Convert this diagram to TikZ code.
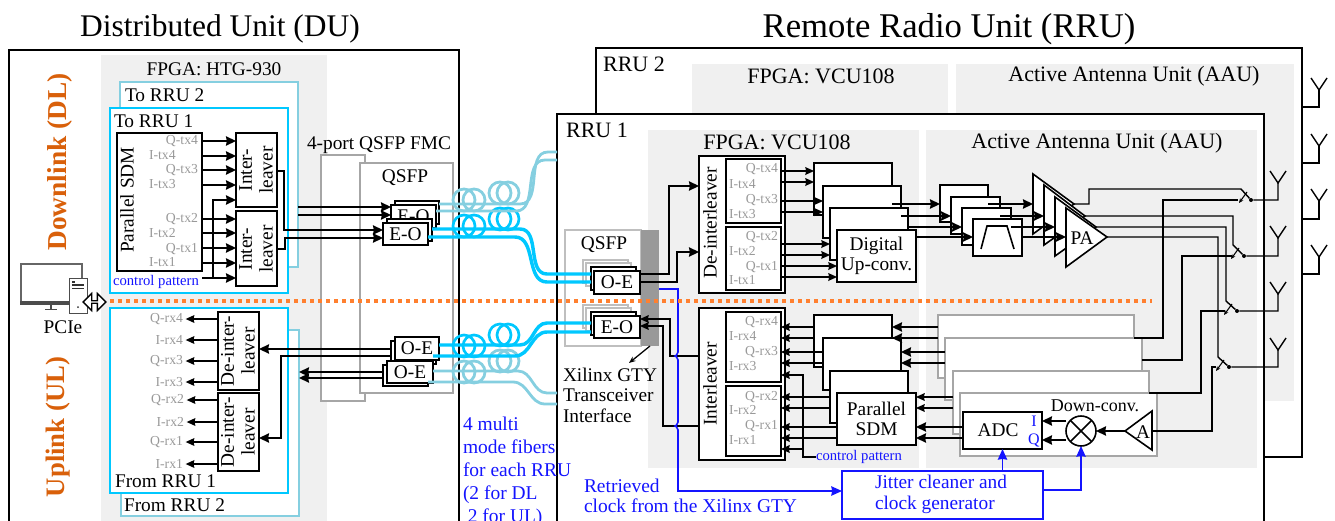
\documentclass[tikz,border=0pt]{standalone}
\usepackage{fontspec}
\setmainfont{Liberation Serif}
\usetikzlibrary{arrows.meta, calc, fit, shapes.arrows}
\definecolor{panelgray}{HTML}{F0F0F0}
\definecolor{edgegray}{HTML}{A6A6A6}
\definecolor{pingray}{HTML}{999999}
\definecolor{fibcyan}{HTML}{00C8FF}
\definecolor{fiblight}{HTML}{85CFE0}
\definecolor{clkblue}{HTML}{1414FF}
\definecolor{dlorange}{HTML}{D9600A}
\definecolor{dotorange}{HTML}{FF8030}

\begin{document}
\begin{tikzpicture}[
      x=0.75pt, y=-0.75pt,
      base/.style={font=\fontsize{14.5}{15.5}\selectfont, inner sep=0pt, outer sep=0pt, align=center},
      panel/.style={base, fill=panelgray},
      box/.style={base, draw=black, line width=1.2pt, fill=white},
      greybox/.style={box, draw=edgegray},
      cyanbox/.style={box, draw=fibcyan},
      lightbox/.style={box, draw=fiblight},
      clkbox/.style={box, draw=clkblue, text=clkblue},
      txt/.style={base},
      bigtxt/.style={base, font=\fontsize{16.5}{17}\selectfont},
      txtl/.style={base, anchor=west, align=left},
      pinq/.style={base, text=pingray, anchor=east, font=\fontsize{10.3}{11}\selectfont},
      pini/.style={base, text=pingray, anchor=west, font=\fontsize{10.3}{11}\selectfont},
      rot/.style={base, rotate=90},
      ctrl/.style={base, anchor=west, text=clkblue, font=\fontsize{11}{12}\selectfont},
      arr/.style={-{Stealth[length=7.5pt, width=7pt, inset=0.6pt]}, line width=1.05pt, black},
      arrs/.style={-{Stealth[length=6.5pt, width=5.8pt, inset=0.6pt]}, line width=0.95pt, black},
      ln/.style={line width=1.05pt, black},
      clk/.style={-{Stealth[length=8pt, width=7pt, inset=0.6pt]}, line width=1.2pt, clkblue},
      fibc/.style={line width=2.6pt, fibcyan},
      fibl/.style={line width=2.1pt, fiblight},
      tick/.style={-{Stealth[length=3.5pt, width=3pt]}, line width=0.8pt, black},
      swdot/.style={circle, fill=black, inner sep=0pt, minimum size=3pt},
      spool/.pic={\draw (-5,0) circle[radius=11]; \draw (5,0) circle[radius=11];},
      spoolb/.pic={\draw (-4,0) circle[radius=11]; \draw (4,0) circle[radius=11];},
      antenna/.pic={\draw[ln] (-8,-12) -- (0,0) -- (8,-12);}
    ]
    \path[use as bounding box, clip] (0,0) rectangle (1335,521);

    % --- Enclosures ---
    \node[box, fit={(9,50)(459,560)}] (du) {};
    \node[panel, fit={(101,55)(327,560)}] (fpgaht) {};
    \node[box, fit={(596,48)(1302,457)}] (rrub) {};
    \node[panel, fit={(692,64)(948,114)}] (fpgabp) {};
    \node[panel, fit={(956,64)(1294,401)}] (aaubp) {};
    \node[box, fit={(557,114)(1264,560)}] (rrua) {};
    \node[panel, fit={(648,130)(919,468)}] (fpgaap) {};
    \node[panel, fit={(926,130)(1257,468)}] (aauap) {};

    % --- Titles ---
    \node[txt, font=\fontsize{23.6}{25}\selectfont] (dutitle) at (220,29) {Distributed Unit (DU)};
    \node[txt, font=\fontsize{26}{27}\selectfont] (rrutitle) at (949,29) {Remote Radio Unit (RRU)};
    \node[txt] (fpgahtl) at (214,69) {FPGA: HTG-930};
    \node[bigtxt] (rrubl) at (634,64) {RRU 2};
    \node[bigtxt] (rrual) at (597,130) {RRU 1};
    \node[bigtxt] (fpgabl) at (821,76) {FPGA: VCU108};
    \node[bigtxt] (aaubl) at (1134,76) {Active Antenna Unit (AAU)};
    \node[bigtxt] (fpgaal) at (777,142) {FPGA: VCU108};
    \node[bigtxt] (aaual) at (1097,143) {Active Antenna Unit (AAU)};
    \node[rot, text=dlorange, font=\fontsize{20.5}{22}\bfseries\selectfont] (dltitle) at (60,162) {Downlink (DL)};
    \node[rot, text=dlorange, font=\fontsize{20}{21}\bfseries\selectfont] (ultitle) at (58,427) {Uplink (UL)};

    % --- DU, downlink ---
    \node[lightbox, fit={(120,82)(298,267)}] (torrub) {};
    \node[txtl] (torrubl) at (125,95) {To RRU 2};
    \node[cyanbox, fit={(110,108)(288,293)}] (torrua) {};
    \node[txtl] (torrual) at (114,121) {To RRU 1};
    \node[box, fit={(117,133)(202,271)}] (sdmtx) {};
    \node[rot] (sdmtxl) at (127,200) {Parallel SDM};
    \node[pinq] (dqtxd) at (198,141) {Q-tx4};
    \node[pini] (ditxd) at (149,155) {I-tx4};
    \node[pinq] (dqtxc) at (198,170) {Q-tx3};
    \node[pini] (ditxc) at (149,184) {I-tx3};
    \node[pinq] (dqtxb) at (198,219) {Q-tx2};
    \node[pini] (ditxb) at (149,233) {I-tx2};
    \node[pinq] (dqtxa) at (198,249) {Q-tx1};
    \node[pini] (ditxa) at (149,262) {I-tx1};
    \node[box, fit={(236,133)(277,207)}] (ilva) {};
    \node[rot] (ilval) at (256,170) {Inter-\\leaver};
    \node[box, fit={(236,211)(277,286)}] (ilvb) {};
    \node[rot] (ilvbl) at (256,249) {Inter-\\leaver};
    \node[ctrl] (ctrld) at (113,282) {control pattern};
    \draw[arr] (sdmtx.east |- 0,141) -- (ilva.west |- 0,141);
    \draw[arr] (sdmtx.east |- 0,156) -- (ilva.west |- 0,156);
    \draw[arr] (sdmtx.east |- 0,170) -- (ilva.west |- 0,170);
    \draw[arr] (sdmtx.east |- 0,185) -- (ilva.west |- 0,185);
    \draw[arr] (sdmtx.east |- 0,219) -- (ilvb.west |- 0,219);
    \draw[arr] (sdmtx.east |- 0,233) -- (ilvb.west |- 0,233);
    \draw[arr] (sdmtx.east |- 0,248) -- (ilvb.west |- 0,248);
    \draw[arr] (sdmtx.east |- 0,263) -- (ilvb.west |- 0,263);
    \draw[arr] (sdmtx.east |- 0,278) -- (ilvb.west |- 0,278);
    \draw[arr] (213,278) -- (213,200) -- (ilva.west |- 0,200);

    % --- DU, uplink ---
    \node[lightbox, fit={(121,330)(299,516)}] (frrub) {};
    \node[txtl] (frrubl) at (124,505) {From RRU 2};
    \node[cyanbox, fit={(110,308)(288,493)}] (frrua) {};
    \node[txtl] (frrual) at (115,481) {From RRU 1};
    \node[box, fit={(218,312)(259,390)}] (dila) {};
    \node[rot] (dilal) at (238,351) {De-inter-\\leaver};
    \node[box, fit={(218,393)(259,471)}] (dilb) {};
    \node[rot] (dilbl) at (238,432) {De-inter-\\leaver};
    \node[pinq] (dqrxd) at (183,319) {Q-rx4};
    \node[pinq] (dirxd) at (183,340) {I-rx4};
    \node[pinq] (dqrxc) at (183,361) {Q-rx3};
    \node[pinq] (dirxc) at (183,382) {I-rx3};
    \node[pinq] (dqrxb) at (184,400) {Q-rx2};
    \node[pinq] (dirxb) at (184,422) {I-rx2};
    \node[pinq] (dqrxa) at (183,442) {Q-rx1};
    \node[pinq] (dirxa) at (183,464) {I-rx1};
    \draw[arrs] (dila.west |- dqrxd) -- ([xshift=2pt]dqrxd.east);
    \draw[arrs] (dila.west |- dirxd) -- ([xshift=2pt]dirxd.east);
    \draw[arrs] (dila.west |- dqrxc) -- ([xshift=2pt]dqrxc.east);
    \draw[arrs] (dila.west |- dirxc) -- ([xshift=2pt]dirxc.east);
    \draw[arrs] (dilb.west |- dqrxb) -- ([xshift=2pt]dqrxb.east);
    \draw[arrs] (dilb.west |- dirxb) -- ([xshift=2pt]dirxb.east);
    \draw[arrs] (dilb.west |- dqrxa) -- ([xshift=2pt]dqrxa.east);
    \draw[arrs] (dilb.west |- dirxa) -- ([xshift=2pt]dirxa.east);

    % --- FMC and QSFP on the DU ---
    \node[greybox, fit={(321,155)(365,401)}] (fmc) {};
    \node[greybox, fit={(360,163)(453,393)}] (qsfpdu) {};
    \node[txt] (fmcl) at (379,145) {4-port QSFP FMC};
    \node[txt] (qsfpdul) at (405,178) {QSFP};
    \node[box, fit={(395,201)(439,224)}] (eoda) {};
    \node[box, fit={(391,205)(436,228)}] (eodb) {};
    \node[txt] (eodbl) at (eodb) {E-O};
    \node[box, fit={(387,219)(432,241)}] (eodc) {};
    \node[box, fit={(383,223)(428,245)}] (eodd) {};
    \node[txt] (eoddl) at (eodd) {E-O};
    \node[box, fit={(391,341)(436,364)}] (oedb) {};
    \node[box, fit={(395,337)(439,360)}] (oeda) {};
    \node[txt] (oedal) at (oeda) {O-E};
    \node[box, fit={(383,365)(428,386)}] (oedd) {};
    \node[box, fit={(387,361)(433,383)}] (oedc) {};
    \node[txt] (oedcl) at (oedc) {O-E};
    \draw[arr] (torrub.east |- 0,207) -- (eodb.west |- 0,207);
    \draw[arr] (torrub.east |- 0,215) -- (eodb.west |- 0,215);
    \draw[arr] (ilva.east |- 0,171) -| (284,230) -- (eodd.west |- 0,230);
    \draw[arr] (ilvb.east |- 0,249) -| (285,238) -- (eodd.west |- 0,238);
    \draw[arr] (oedb.west |- 0,349) -- (dila.east |- 0,349);
    \draw[arr] (oedb.west |- 0,356) -| (281,438) -- (dilb.east |- 0,438);
    \draw[arr] (oedd.west |- 0,372) -- (frrub.east |- 0,372);
    \draw[arr] (oedd.west |- 0,378) -- (frrub.east |- 0,378);

    % --- QSFP on the RRU ---
    \node[greybox, draw=black!25, fit={(565,230)(641,346)}] (qsfprru) {};
    \node[panel, fill=black!40, fit={(641,230)(659,346)}] (gty) {};
    \node[txt] (qsfprrul) at (604,245) {QSFP};
    \node[greybox, draw=black!25, fit={(583,260)(628,283)}] (oesa) {};
    \node[greybox, draw=black!25, fit={(586,263)(631,286)}] (oesb) {};
    \node[box, fit={(591,267)(636,290)}] (oerb) {};
    \node[box, fit={(594,271)(640,294)}] (oera) {};
    \node[txt] (oeral) at (oera) {O-E};
    \node[greybox, draw=black!25, fit={(583,305)(628,328)}] (eosa) {};
    \node[greybox, draw=black!25, fit={(586,308)(631,331)}] (eosb) {};
    \node[box, fit={(591,312)(636,335)}] (eorb) {};
    \node[box, fit={(594,316)(640,338)}] (eora) {};
    \node[txt] (eoral) at (eora) {E-O};
    \node[txtl, anchor=north west, font=\fontsize{14.5}{15.4}\selectfont] (gtyl) at (563,368) {Xilinx GTY\\Transceiver\\Interface};
    \draw[arrs, -{Stealth[length=5pt, width=4pt]}] (gty.south) -- (629,363);

    % --- Fibers ---
    \path[fibl] pic at (469,200) {spool} pic at (504,193) {spoolb};
    \path[fibc] pic[line width=2pt] at (469,226) {spool} pic[line width=2pt] at (504,219) {spoolb};
    \path[fibc] pic[line width=2pt] at (469,346) {spool} pic[line width=2pt] at (504,335) {spoolb};
    \path[fibl] pic at (469,372) {spool} pic at (504,361) {spoolb};
    \coordinate (fua) at (520,204);
    \coordinate (fub) at (516,211);
    \coordinate (fca) at (520,229);
    \coordinate (fcb) at (515,237);
    \coordinate (fda) at (520,345);
    \coordinate (fdb) at (515,356);
    \coordinate (fla) at (518,371);
    \coordinate (flb) at (513,382);
    \draw[fibl] (eoda.east |- fua) -- (fua) to[out=0, in=180] (548,152) -- (rrua.west |- 0,152);
    \draw[fibl] (eodb.east |- fub) -- (fub) to[out=0, in=180] (545,160) -- (rrua.west |- 0,160);
    \draw[fibc] (eodc.east |- fca) -- (fca) to[out=0, in=180] (547,274) -- (oerb.west |- 0,274);
    \draw[fibc] (eodd.east |- fcb) -- (fcb) to[out=0, in=180] (547,282) -- (oerb.west |- 0,282);
    \draw[fibc] (oeda.east |- fda) -- (fda) to[out=0, in=180] (547,323) -- (eorb.west |- 0,323);
    \draw[fibc] (oedc.east |- fdb) -- (fdb) to[out=0, in=180] (547,332) -- (eorb.west |- 0,332);
    \draw[fibl] (oedc.east |- fla) -- (fla) to[out=0, in=180] (547,393) -- (rrua.west |- 0,393);
    \draw[fibl] (oedd.east |- flb) -- (flb) to[out=0, in=180] (545,404) -- (rrua.west |- 0,404);

    % --- RRU, downlink digital ---
    \node[box, fit={(699,156)(785,293)}] (dilrru) {};
    \node[rot] (dilrrul) at (710,223) {De-interleaver};
    \node[box, line width=0.9pt, fit={(726,159)(781,223)}] (txsa) {};
    \node[box, line width=0.9pt, fit={(726,227)(781,290)}] (txsb) {};
    \node[pinq] (qtxd) at (778,169) {Q-tx4};
    \node[pini] (itxd) at (729,184) {I-tx4};
    \node[pinq] (qtxc) at (778,200) {Q-tx3};
    \node[pini] (itxc) at (729,214) {I-tx3};
    \node[pinq] (qtxb) at (778,237) {Q-tx2};
    \node[pini] (itxb) at (729,251) {I-tx2};
    \node[pinq] (qtxa) at (778,267) {Q-tx1};
    \node[pini] (itxa) at (729,280) {I-tx1};
    \node[box, fit={(814,163)(892,215)}] (duca) {};
    \node[box, fit={(823,186)(901,238)}] (ducb) {};
    \node[box, fit={(830,208)(908,260)}] (ducc) {};
    \node[box, fit={(837,230)(916,282)}] (ducd) {};
    \node[txt] (ducdl) at (ducd) {Digital\\Up-conv.};
    \draw[arrs] (txsa.east |- 0,171) -- (duca.west |- 0,171);
    \draw[arrs] (txsa.east |- 0,182) -- (duca.west |- 0,182);
    \draw[arrs] (txsa.east |- 0,201) -- (ducb.west |- 0,201);
    \draw[arrs] (txsa.east |- 0,212) -- (ducb.west |- 0,212);
    \draw[arrs] (txsb.east |- 0,244) -- (ducc.west |- 0,244);
    \draw[arrs] (txsb.east |- 0,255) -- (ducc.west |- 0,255);
    \draw[arrs] (txsb.east |- 0,266) -- (ducd.west |- 0,266);
    \draw[arrs] (txsb.east |- 0,277) -- (ducd.west |- 0,277);
    \draw[arr] (oera.east |- 0,274) -| (669,186) -- (dilrru.west |- 0,186);
    \draw[arr] (oera.east |- 0,282) -| (677,252) -- (dilrru.west |- 0,252);

    % --- Filters and PA ---
    \node[box, fit={(940,185)(988,222)}] (bpfa) {};
    \node[box, fit={(951,197)(1000,234)}] (bpfb) {};
    \node[box, fit={(962,208)(1011,245)}] (bpfc) {};
    \node[box, fit={(973,219)(1022,256)}] (bpfd) {};
    \draw[line width=1.2pt] (981,249) -- (987,226) -- (1007,226) -- (1014,249);
    \draw[arr] (duca.east |- 0,204) -- (bpfa.west |- 0,204);
    \draw[arr] (ducb.east |- 0,216) -- (bpfb.west |- 0,216);
    \draw[arr] (ducc.east |- 0,227) -- (bpfc.west |- 0,227);
    \draw[arr] (ducd.east |- 0,237) -- (bpfd.west |- 0,237);
    \coordinate (paa) at (1074,204);
    \coordinate (pab) at (1085,216);
    \coordinate (pac) at (1096,227);
    \coordinate (pad) at (1107,237);
    \draw[line width=1.2pt, fill=white] (1033,174) -- (paa) -- (1033,234) -- cycle;
    \draw[line width=1.2pt, fill=white] (1044,185) -- (pab) -- (1044,245) -- cycle;
    \draw[line width=1.2pt, fill=white] (1055,197) -- (pac) -- (1055,256) -- cycle;
    \draw[line width=1.2pt, fill=white] (1066,208) -- (pad) -- (1066,267) -- cycle;
    \node[txt] (pal) at (1082,238) {PA};
    \draw[arr] (bpfa.east |- 0,204) -- (1033,204);
    \draw[arr] (bpfb.east |- 0,216) -- (1044,216);
    \draw[arr] (bpfc.east |- 0,227) -- (1055,227);
    \draw[arr] (bpfd.east |- 0,237) -- (1066,237);

    % --- Uplink RF ---
    \node[greybox, fit={(938,315)(1134,378)}] (lnaa) {};
    \node[greybox, fit={(945,338)(1142,400)}] (lnab) {};
    \node[greybox, fit={(953,371)(1149,434)}] (lnac) {};
    \node[greybox, fit={(960,393)(1157,456)}] (lnad) {};
    \node[box, fit={(963,412)(1042,449)}] (adc) {};
    \node[txt] (adcl) at (998,430) {ADC};
    \node[txt, text=clkblue, font=\fontsize{12}{13}\selectfont] (il) at (1034,421) {I};
    \node[txt, text=clkblue, font=\fontsize{12}{13}\selectfont] (ql) at (1034,440) {Q};
    \node[txt, font=\fontsize{13.5}{14}\selectfont] (dcl) at (1095,406) {Down-conv.};
    \node[circle, draw=black, line width=1.2pt, fill=white, minimum size=22.5pt, inner sep=0pt, outer sep=0pt] (mix) at (1081,431) {};
    \draw[line width=1.2pt] (mix.north west) -- (mix.south east) (mix.north east) -- (mix.south west);
    \coordinate (lnatip) at (1125,431);
    \coordinate (lnaout) at (1152,431);
    \draw[line width=1.2pt, fill=white] (lnatip) -- (1152,411) -- (1152,450) -- cycle;
    \node[txt] (lnal) at (1143,432) {A};
    \draw[arr] (lnatip) -- (mix.east);
    \draw[arr] (mix.west |- 0,421) -- (adc.east |- 0,421);
    \draw[arr] (mix.west |- 0,440) -- (adc.east |- 0,440);

    % --- RRU, uplink digital ---
    \node[box, fit={(699,308)(785,460)}] (ilvrru) {};
    \node[rot] (ilvrrul) at (710,384) {Interleaver};
    \node[box, line width=0.9pt, fit={(726,312)(781,382)}] (rxsa) {};
    \node[box, line width=0.9pt, fit={(726,386)(781,456)}] (rxsb) {};
    \node[pinq] (qrxd) at (778,322) {Q-rx4};
    \node[pini] (irxd) at (729,336) {I-rx4};
    \node[pinq] (qrxc) at (778,352) {Q-rx3};
    \node[pini] (irxc) at (729,366) {I-rx3};
    \node[pinq] (qrxb) at (778,397) {Q-rx2};
    \node[pini] (irxb) at (729,410) {I-rx2};
    \node[pinq] (qrxa) at (778,426) {Q-rx1};
    \node[pini] (irxa) at (729,440) {I-rx1};
    \node[box, fit={(814,315)(892,367)}] (sdma) {};
    \node[box, fit={(823,338)(901,390)}] (sdmb) {};
    \node[box, fit={(830,371)(908,423)}] (sdmc) {};
    \node[box, fit={(837,393)(916,445)}] (sdmd) {};
    \node[txt] (sdmdl) at (sdmd) {Parallel\\SDM};
    \node[ctrl] (ctrlu) at (816,457) {control pattern};
    \draw[arrs] (sdma.west |- 0,327) -- (rxsa.east |- 0,327);
    \draw[arrs] (sdma.west |- 0,338) -- (rxsa.east |- 0,338);
    \draw[arrs] (sdmb.west |- 0,352) -- (rxsa.east |- 0,352);
    \draw[arrs] (sdmb.west |- 0,363) -- (rxsa.east |- 0,363);
    \draw[arrs] (sdmc.west |- 0,397) -- (rxsb.east |- 0,397);
    \draw[arrs] (sdmc.west |- 0,408) -- (rxsb.east |- 0,408);
    \draw[arrs] (sdmd.west |- 0,427) -- (rxsb.east |- 0,427);
    \draw[arrs] (sdmd.west |- 0,438) -- (rxsb.east |- 0,438);
    \draw[arrs] (ctrlu.west) -| (803,375) -- (rxsa.east |- 0,375);
    \draw[arrs] (803,449) -- (rxsb.east |- 0,449);
    \draw[arr] (lnaa.west |- 0,327) -- (sdma.east |- 0,327);
    \draw[arr] (lnaa.west |- 0,338) -- (sdma.east |- 0,338);
    \draw[arr] (lnab.west |- 0,352) -- (sdmb.east |- 0,352);
    \draw[arr] (lnab.west |- 0,363) -- (sdmb.east |- 0,363);
    \draw[arrs] (lnac.west |- 0,397) -- (sdmd.east |- 0,397);
    \draw[arrs] (lnac.west |- 0,408) -- (sdmd.east |- 0,408);
    \draw[arr] (adc.west |- 0,427) -- (sdmd.east |- 0,427);
    \draw[arr] (adc.west |- 0,438) -- (sdmd.east |- 0,438);
    \draw[arrs] (ilvrru.west |- 0,356) -| (670,319) -- (eora.east |- 0,319);
    \draw[arrs] (ilvrru.west |- 0,426) -| (663,326) -- (eora.east |- 0,326);

    % --- Clock ---
    \node[clkbox, fit={(842,471)(1043,519)}] (jitter) {};
    \node[txtl, anchor=north west, text=clkblue] (jitterl) at (875,475) {Jitter cleaner and\\clock generator};
    \coordinate (clkhopa) at (678,356);
    \coordinate (clkhopb) at (678,426);
    \draw[clk] (gty.east |- 0,289) -- (678,289) -- (678,352) .. controls (678,355) and (675,356) .. (675,356) .. controls (675,356) and (678,357) .. (678,360) -- (678,422) .. controls (678,425) and (675,426) .. (675,426) .. controls (675,426) and (678,427) .. (678,430) -- (678,491) -- (jitter.west |- 0,491);
    \draw[clk] (jitter.north -| adc) -- (adc.south);
    \draw[clk] (jitter.east |- 0,490) -| (mix.south);
    \node[txtl, anchor=north west, text=clkblue, font=\fontsize{14.6}{15.2}\selectfont] (clktext) at (584,479) {Retrieved\\clock from the Xilinx GTY};
    \node[txtl, anchor=north west, text=clkblue, font=\fontsize{14.6}{17.2}\selectfont] (fibtext) at (463,417) {4 multi\\mode fibers\\for each RRU\\(2 for DL\\\ 2 for UL)};

    % --- Antennas and switches ---
    \coordinate (anta) at (1278,183);
    \coordinate (antb) at (1278,238);
    \coordinate (antc) at (1278,294);
    \coordinate (antd) at (1278,350);
    \coordinate (swa) at (1241,189);
    \coordinate (swb) at (1233,245);
    \coordinate (swc) at (1226,301);
    \coordinate (swd) at (1218,357);
    \node[swdot] (dota) at (1251,200) {};
    \node[swdot] (dotb) at (1244,256) {};
    \node[swdot] (dotc) at (1237,311) {};
    \node[swdot] (dotd) at (1229,367) {};
    \pic at (anta) {antenna};
    \pic at (antb) {antenna};
    \pic at (antc) {antenna};
    \pic at (antd) {antenna};
    \draw[ln] (paa) -- (1089,204) -- (1089,189) -- (swa) -- (dota) -- (1278,200) -- (anta);
    \draw[ln] (pab) -| (swb) -- (dotb) -- (1278,256) -- (antb);
    \draw[ln] (pac) -| (swc) -- (dotc) -- (1278,311) -- (antc);
    \draw[ln] (pad) -| (swd) -- (dotd) -- (1278,367) -- (antd);
    \draw[tick] ([shift={(6,3)}]swa) -- ([shift={(-2,14)}]swa);
    \draw[tick] ([shift={(6,3)}]swb) -- ([shift={(-2,14)}]swb);
    \draw[tick] ([shift={(6,3)}]swc) -- ([shift={(-2,14)}]swc);
    \draw[tick] ([shift={(6,3)}]swd) -- ([shift={(-2,14)}]swd);
    \draw[ln] (lnaa.east |- 0,338) -| (1163,200) -- (1238,200);
    \draw[ln] (lnab.east |- 0,360) -| (1182,256) -- (1232,256);
    \draw[ln] (lnac.east |- 0,393) -| (1201,311) -- (1225,311);
    \draw[ln] (lnaout) -| (1212,367) -- (1216,367);
    \coordinate (antba) at (1319,90);
    \coordinate (antbb) at (1319,146);
    \coordinate (antbc) at (1319,201);
    \coordinate (antbd) at (1319,257);
    \pic at (antba) {antenna};
    \pic at (antbb) {antenna};
    \pic at (antbc) {antenna};
    \pic at (antbd) {antenna};
    \draw[ln] (antba) |- (rrub.east |- 0,107);
    \draw[ln] (antbb) |- (rrub.east |- 0,163);
    \draw[ln] (antbc) |- (rrub.east |- 0,219);
    \draw[ln] (antbd) |- (rrub.east |- 0,274);

    % --- PC ---
    \node[box, draw=black!60, line width=1.7pt, fit={(21,264)(82,303)}] (monitor) {};
    \node[panel, fill=black!70, fit={(20,301)(83,305)}] (bezel) {};
    \node[panel, fill=black!70, fit={(50,305)(52,309)}] (stand) {};
    \node[panel, fill=black!70, fit={(45,309)(57,310)}] (standfoot) {};
    \node[box, line width=0.6pt, draw=black!70, fit={(69,278)(87,313)}] (tower) {};
    \draw[line width=0.8pt, black!80] (72,282) -- (75,282) (72,285) -- (84,285) (72,288.5) -- (84,288.5);
    \fill[black!80] (78,307) circle[radius=1];
    \node[txt] (pcie) at (63,327) {PCIe};
    \node[double arrow, draw=black, line width=1pt, fill=white, minimum height=17pt, minimum width=12.75pt, inner sep=0pt, double arrow head extend=3pt] (pcielink) at (94.5,302) {};

    % --- DL/UL separator ---
    \coordinate (sepa) at (110,301);
    \coordinate (sepb) at (1152,301);
    \draw[dotorange, line width=3.2pt, dash pattern=on 3.2pt off 2.8pt] (sepa) -- (sepb);
  \end{tikzpicture}
\end{document}
